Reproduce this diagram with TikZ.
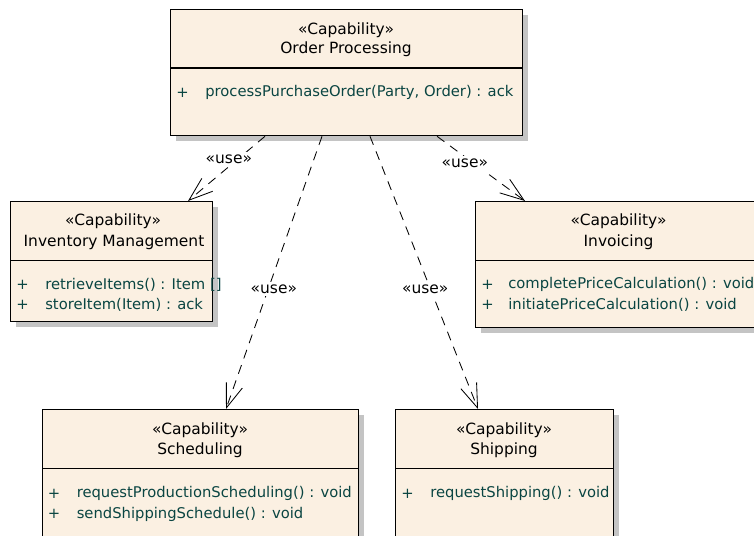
\documentclass[tikz,border=0pt]{standalone}
\usepackage{fontspec}
\setmainfont{DejaVu Sans}
\usetikzlibrary{arrows.meta,shadows,calc}
\definecolor{capfill}{HTML}{FBF0E2}
\definecolor{capop}{HTML}{0A4542}
\definecolor{capshadow}{HTML}{C4C4C4}

\begin{document}
\begin{tikzpicture}[x=0.025cm, y=-0.025cm, font=\fontsize{11}{13}\selectfont,
    capbox/.style={rectangle, draw=black, line width=0.9pt, fill=capfill, anchor=north west,
        drop shadow={shadow xshift=3.5pt, shadow yshift=-3.5pt, fill=capshadow, opacity=1}},
    capline/.style={draw=black, line width=0.8pt},
    captext/.style={inner sep=0pt},
    opsign/.style={text=capop, inner sep=0pt, font=\fontsize{10.5}{12}\selectfont},
    optext/.style={text=capop, inner sep=0pt, anchor=west, font=\fontsize{10.5}{12}\selectfont},
    usedep/.style={dash pattern=on 6.5pt off 5pt, line width=0.6pt,
        -{Straight Barb[length=17pt, width=12pt]}},
    uselabel/.style={fill=white, inner sep=2pt}]

            \useasboundingbox (0,0) rectangle (754,536);
            \clip (0,0) rectangle (754,536);

            % Order Processing
            \node[capbox, minimum width=8.8cm, minimum height=3.15cm] (op) at (170,9) {};
            \draw[capline] ($(op.north west)+(0,59)$) -- ($(op.north east)+(0,59)$);
            \node[captext] (opst) at (346,30) {«Capability»};
            \node[captext] (opname) at (346,49.5) {Order Processing};
            \node[opsign] (opp1) at (182.5,92.5) {+};
            \node[optext] (opop1) at (205,92.5) {processPurchaseOrder(Party, Order) : ack};

            % Inventory Management
            \node[capbox, minimum width=5.05cm, minimum height=3cm] (inv) at (10,201) {};
            \draw[capline] ($(inv.north west)+(0,59.5)$) -- ($(inv.north east)+(0,59.5)$);
            \node[captext] (invst) at (113,221.5) {«Capability»};
            \node[captext] (invname) at (114,242.5) {Inventory Management};
            \node[opsign] (invp1) at (22.5,284.5) {+};
            \node[optext] (invop1) at (45,284.5) {retrieveItems() : Item []};
            \node[opsign] (invp2) at (22.5,305) {+};
            \node[optext] (invop2) at (45,305) {storeItem(Item) : ack};

            % Invoicing
            \node[capbox, minimum width=7.15cm, minimum height=3.15cm] (inc) at (475,201) {};
            \draw[capline] ($(inc.north west)+(0,59.5)$) -- ($(inc.north east)+(0,59.5)$);
            \node[captext] (incst) at (618.5,221.5) {«Capability»};
            \node[captext] (incname) at (618.5,242.5) {Invoicing};
            \node[opsign] (incp1) at (487.5,284.5) {+};
            \node[optext] (incop1) at (508,284.5) {completePriceCalculation() : void};
            \node[opsign] (incp2) at (487.5,305) {+};
            \node[optext] (incop2) at (508,305) {initiatePriceCalculation() : void};

            % Scheduling
            \node[capbox, minimum width=7.9cm, minimum height=3.5cm] (sch) at (42,409) {};
            \draw[capline] ($(sch.north west)+(0,59.5)$) -- ($(sch.north east)+(0,59.5)$);
            \node[captext] (schst) at (200,430) {«Capability»};
            \node[captext] (schname) at (200,450.5) {Scheduling};
            \node[opsign] (schp1) at (54,493.5) {+};
            \node[optext] (schop1) at (76.5,493.5) {requestProductionScheduling() : void};
            \node[opsign] (schp2) at (54,514) {+};
            \node[optext] (schop2) at (76.5,514) {sendShippingSchedule() : void};

            % Shipping
            \node[capbox, minimum width=5.45cm, minimum height=3.5cm] (shp) at (395,409) {};
            \draw[capline] ($(shp.north west)+(0,59.5)$) -- ($(shp.north east)+(0,59.5)$);
            \node[captext] (shpst) at (504,430) {«Capability»};
            \node[captext] (shpname) at (504,450.5) {Shipping};
            \node[opsign] (shpp1) at (407.5,493.5) {+};
            \node[optext] (shpop1) at (430,493.5) {requestShipping() : void};

            % use dependencies
            \draw[usedep] ($(op.south west)+(95,0)$)
                -- node[uselabel, pos=0.36, xshift=-6pt] {«use»} ($(inv.north west)+(178,0)$);
            \draw[usedep] ($(op.south west)+(152,0)$)
                -- node[uselabel, pos=0.56, xshift=4pt] {«use»} ($(sch.north west)+(184,0)$);
            \draw[usedep] ($(op.south west)+(200,0)$)
                -- node[uselabel, pos=0.56, xshift=-3.7pt] {«use»} ($(shp.north west)+(83,0)$);
            \draw[usedep] ($(op.south west)+(267,0)$)
                -- node[uselabel, pos=0.42, xshift=-6.5pt] {«use»} ($(inc.north west)+(50,0)$);
        \end{tikzpicture}
\end{document}
